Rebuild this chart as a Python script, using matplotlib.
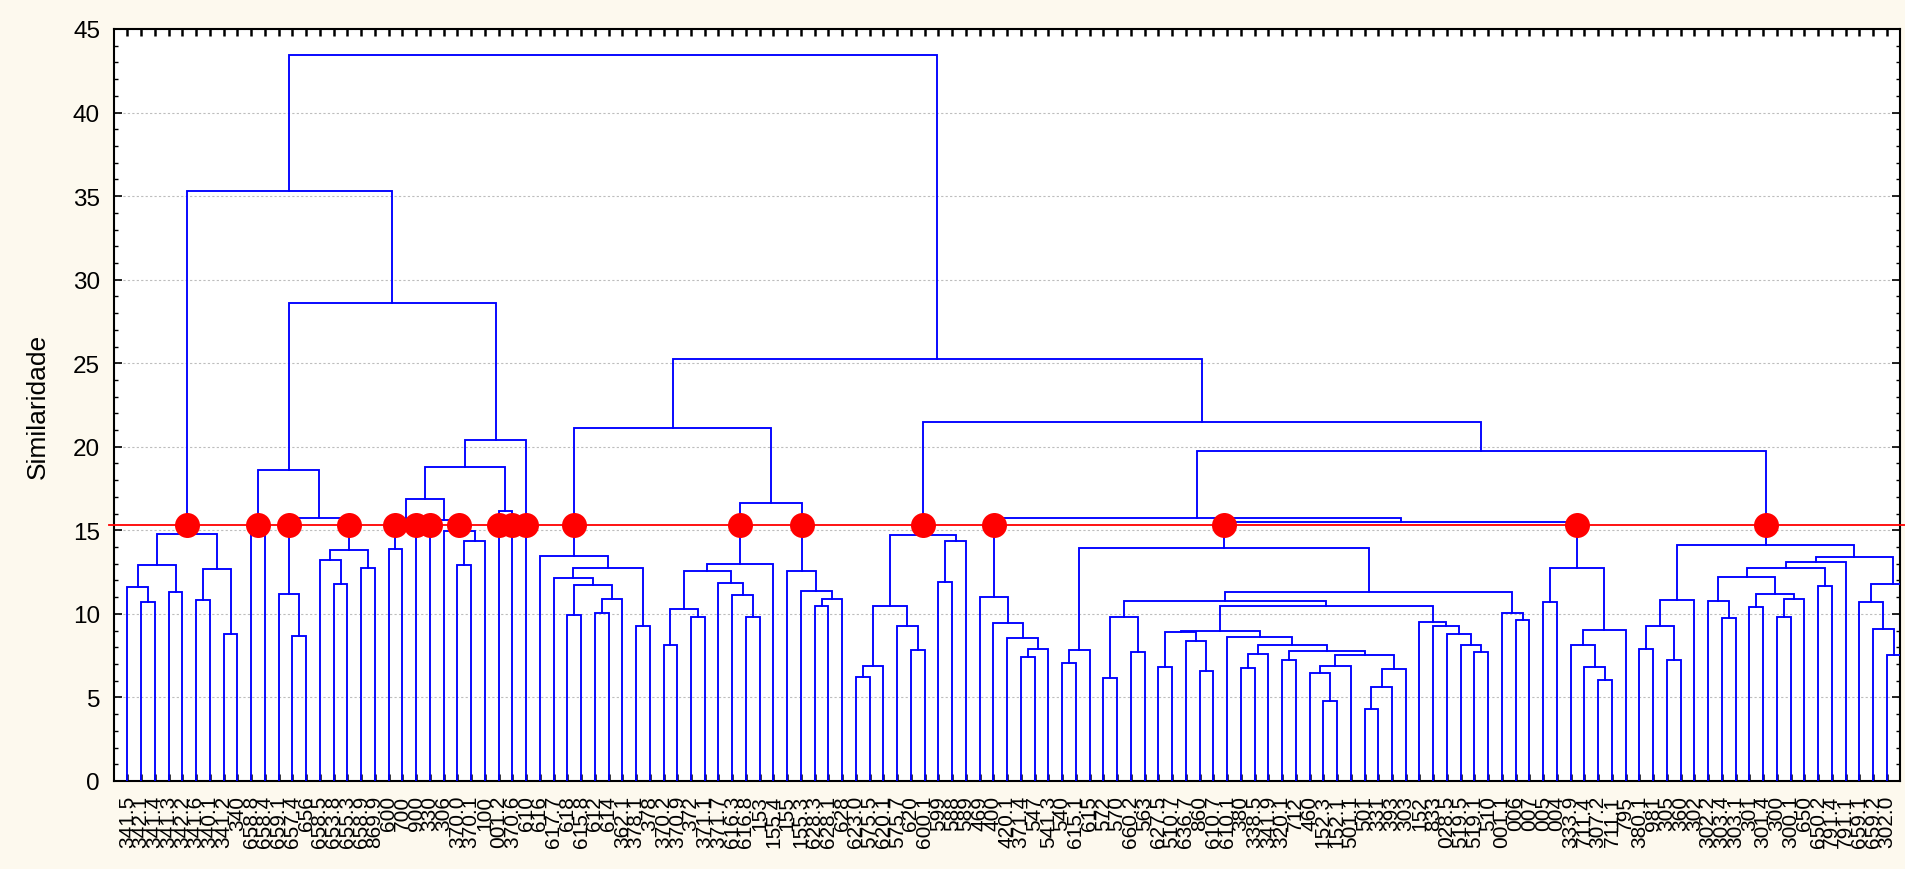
import matplotlib
matplotlib.use("Agg")
import matplotlib.pyplot as plt
from matplotlib.ticker import MultipleLocator

plt.rcParams['font.family'] = ['Liberation Sans', 'DejaVu Sans']

CUT_LEVEL = 15.32
Y_MAX = 45

# Leaf labels, left to right
leaf_labels = [
    "341.5", "342.1", "341.4", "341.3", "342.2", "341.6", "340.1", "341.2", "340",
    "658.8", "658.4", "659.1", "657.4", "656", "658.5", "653.8", "655.3", "658.9",
    "869.9", "600", "700", "900", "330", "306", "370.0", "370.1", "100", "001.2",
    "370.6", "610", "616", "617.7", "618", "615.8", "612", "614", "362.1", "378.1",
    "378", "370.2", "370.9", "372", "371.1", "371.7", "616.3", "616.8", "153",
    "155.4", "155", "155.3", "628.3", "628.1", "628", "623.0", "575.5", "620.1",
    "575.7", "620", "600.1", "599", "588", "589", "469", "400", "420.1", "371.4",
    "547", "541.3", "540", "615.1", "615", "572", "570", "660.2", "563", "627.5",
    "510.7", "636.7", "860", "610.7", "610.1", "380", "338.5", "341.9", "320.1",
    "712", "460", "152.3", "152.1", "501.1", "501", "331", "393", "303", "152",
    "833", "028.5", "519.5", "519.1", "510", "001.1", "006", "007", "005", "004",
    "333.9", "711.4", "307.2", "711.1", "795", "380.1", "981", "305", "360", "302",
    "302.2", "303.4", "303.1", "301", "301.4", "300", "300.1", "650", "650.2",
    "791.4", "791.1", "659.1", "659.2", "302.0",
]

# Merge tree: (left, right, height); integers are leaf positions
grupo_341 = (((0, (1, 2, 10.73), 11.63), (3, 4, 11.31), 12.95),
             ((5, 6, 10.85), (7, 8, 8.80), 12.71), 14.78)

grupo_658 = ((9, 10, 15.10),
             ((11, (12, 13, 8.70), 11.17),
              ((14, (15, 16, 11.79), 13.23), (17, 18, 12.75), 13.82), 15.74),
             18.59)

sub_a = ((19, 20, 13.90), 21, 15.55)
sub_c = (23, ((24, 25, 12.90), 26, 14.34), 14.98)
sub_b = (22, sub_c, 15.60)
grupo_370 = ((((sub_a, sub_b, 16.88), (27, 28, 16.18), 18.80)), 29, 20.40)

ramo_esq = (grupo_341, (grupo_658, grupo_370, 28.63), 35.32)

grupo_d = (30, ((31, ((32, 33, 9.93), ((34, 35, 10.07), 36, 10.89), 11.75), 12.15),
                (37, 38, 9.29), 12.75), 13.48)
q1 = ((39, 40, 8.14), (41, 42, 9.83), 10.27)
q2 = (43, (44, (45, 46, 9.83), 11.13), 11.85)
grupo_e = (((q1, q2, 12.55), 47, 12.99),
           (48, (49, ((50, 51, 10.45), 52, 10.89), 11.37), 12.55), 16.62)
grupo_de = (grupo_d, grupo_e, 21.15)

s1 = (((53, 54, 6.20), 55, 6.86), (56, (57, 58, 7.84), 9.29), 10.47)
s2 = ((59, 60, 11.93), 61, 14.38)
grupo_s = (s1, s2, 14.72)

grupo_f = (62, (63, (64, ((65, 66, 7.44), 67, 7.90), 8.58), 9.44), 10.99)

h0 = ((68, 69, 7.06), 70, 7.84)
i1 = ((71, 72, 6.14), (73, 74, 7.72), 9.80)
i2a = ((75, 76, 6.84), (77, (78, 79, 6.60), 8.40), 8.90)
i2b = (80, (((81, 82, 6.76), 83, 7.60),
            ((84, 85, 7.24),
             (((86, (87, 88, 4.77), 6.44), 89, 6.90),
              (((90, 91, 4.33), 92, 5.64), 93, 6.68), 7.54), 7.76), 8.16), 8.60)
i2c = (94, (95, (96, (97, (98, 99, 7.72), 8.14), 8.80), 9.28), 9.50)
i2 = ((i2a, i2b, 9.00), i2c, 10.47)
i3 = (100, (101, 102, 9.62), 10.05)
grupo_h = (h0, ((i1, i2, 10.79), i3, 11.33), 13.92)
grupo_j = ((103, 104, 10.69), ((105, (106, (107, 108, 6.04), 6.80), 8.14), 109, 9.02), 12.73)
grupo_k = (grupo_f, (grupo_h, grupo_j, 15.48), 15.74)

m1 = (((110, 111, 7.90), (112, 113, 7.24), 9.28), 114, 10.81)
m2a = (((115, (116, 117, 9.77), 10.79),
        ((118, 119, 10.43), ((120, 121, 9.83), 122, 10.89), 11.19), 12.23),
       (123, 124, 11.69), 12.73)
m2 = ((m2a, 125, 13.09), ((126, (127, (128, 129, 7.54), 9.10), 10.69), 130, 11.81), 13.42)
grupo_m = (m1, m2, 14.12)

ramo_dir = (grupo_de, (grupo_s, (grupo_k, grupo_m, 19.77), 21.47), 25.25)
arvore = (ramo_esq, ramo_dir, 43.44)

LINE_BLUE = "#0000FF"

fig = plt.figure(figsize=(19.05, 8.70), dpi=100, facecolor="#FDF9EE")
ax = fig.add_axes([114 / 1905, 88 / 870, 1786 / 1905, 752 / 870])
ax.set_facecolor("white")

cut_points = []


def draw(node):
    """Draw a cluster and return (x position, height) of its stem."""
    if isinstance(node, int):
        return float(node), 0.0
    left, right, h = node
    xl, hl = draw(left)
    xr, hr = draw(right)
    ax.plot([xl, xl, xr, xr], [hl, h, h, hr], color=LINE_BLUE, lw=1.35,
            solid_joinstyle="miter", zorder=3)
    for xc, hc in ((xl, hl), (xr, hr)):
        if hc < CUT_LEVEL < h:
            cut_points.append(xc)
    return (xl + xr) / 2.0, h


draw(arvore)

n_leaves = len(leaf_labels)
ax.set_xlim(-0.98, n_leaves - 1 + 0.96)
ax.set_ylim(0, Y_MAX)
ax.set_autoscale_on(False)

# cut line and clusters crossing it
ax.plot([-0.003, 1.01], [CUT_LEVEL, CUT_LEVEL], transform=ax.get_yaxis_transform(),
        color="red", lw=1.3, clip_on=False, zorder=4)
ax.plot(cut_points, [CUT_LEVEL] * len(cut_points), "o", color="red", ms=18,
        markeredgewidth=0, zorder=5)

ax.yaxis.set_major_locator(MultipleLocator(5))
ax.yaxis.set_minor_locator(MultipleLocator(1))
ax.grid(axis="y", which="major", color="#BDBDBD", lw=0.8, linestyle=(0, (2, 2)), zorder=1)

ax.set_xticks(range(n_leaves))
ax.set_xticklabels(leaf_labels, rotation=90, fontsize=15)
ax.tick_params(axis="x", direction="in", length=5, width=1.8, top=True, pad=10)
ax.tick_params(axis="y", which="major", direction="in", length=6, width=1.2,
               right=True, labelsize=17.5, pad=10)
ax.tick_params(axis="y", which="minor", direction="in", length=3, width=1.0, right=True)

for s in ax.spines.values():
    s.set_linewidth(1.5)

ax.set_ylabel("Similaridade", fontsize=19)
ax.yaxis.set_label_coords(-0.036, 0.5)

fig.savefig("out.png", dpi=100, facecolor=fig.get_facecolor())
